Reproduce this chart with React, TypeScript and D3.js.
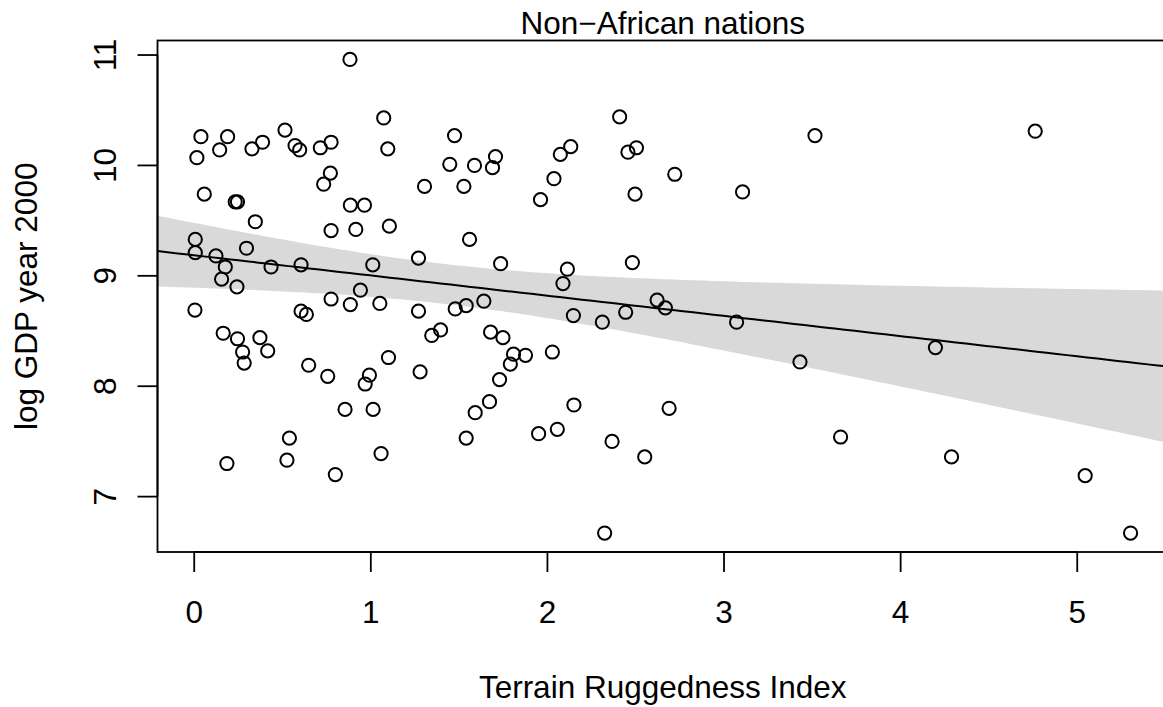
import React, { useEffect, useRef } from "react";
import * as d3 from "d3";

// terrain ruggedness vs log GDP (non-African nations)
const rugged = [
  0.006, 0.006, 0.004, 0.015, 0.038, 0.057, 0.123, 0.144, 0.155, 0.176,
  0.164, 0.189, 0.185, 0.232, 0.245, 0.242, 0.245, 0.274, 0.283, 0.296,
  0.327, 0.346, 0.372, 0.387, 0.416, 0.435, 0.514, 0.539, 0.525, 0.571,
  0.597, 0.605, 0.605, 0.635, 0.648, 0.714, 0.733, 0.756, 0.775, 0.771,
  0.775, 0.775, 0.799, 0.854, 0.882, 0.884, 0.884, 0.915, 0.941, 0.964,
  0.968, 0.992, 1.011, 1.013, 1.051, 1.058, 1.073, 1.096, 1.105, 1.1,
  1.27, 1.27, 1.279, 1.304, 1.345, 1.395, 1.447, 1.474, 1.478, 1.527,
  1.54, 1.54, 1.559, 1.587, 1.591, 1.64, 1.672, 1.678, 1.689, 1.706,
  1.735, 1.729, 1.748, 1.79, 1.808, 1.876, 1.961, 1.95, 2.028, 2.037,
  2.056, 2.073, 2.088, 2.113, 2.132, 2.147, 2.15, 2.311, 2.324, 2.366,
  2.409, 2.443, 2.456, 2.481, 2.496, 2.504, 2.551, 2.621, 2.668, 2.689,
  2.721, 3.071, 3.105, 3.43, 3.515, 3.66, 4.197, 4.288, 4.762, 5.045,
  5.302
];

const logGdp = [
  9.33, 9.21, 8.69, 10.07, 10.26, 9.74, 9.18, 10.14, 8.97, 9.08,
  8.48, 10.26, 7.3, 9.67, 9.67, 8.9, 8.43, 8.31, 8.21, 9.25,
  10.15, 9.49, 8.44, 10.21, 8.32, 9.08, 10.32, 7.53, 7.33, 10.18,
  10.14, 9.1, 8.68, 8.65, 8.19, 10.16, 9.83, 8.09, 10.21, 9.93,
  9.41, 8.79, 7.2, 7.79, 10.96, 9.64, 8.74, 9.42, 8.87, 9.64,
  8.02, 8.1, 9.1, 7.79, 8.75, 7.39, 10.43, 10.15, 9.45, 8.26,
  9.16, 8.68, 8.13, 9.81, 8.46, 8.51, 10.01, 10.27, 8.7, 9.81,
  8.73, 7.53, 9.33, 10.0, 7.76, 8.77, 7.86, 8.49, 9.98, 10.08,
  9.11, 8.06, 8.44, 8.2, 8.29, 8.28, 9.69, 7.57, 8.31, 9.88,
  7.61, 10.1, 8.93, 9.06, 10.17, 8.64, 7.83, 8.58, 6.67, 7.5,
  10.44, 8.67, 10.12, 9.12, 9.74, 10.16, 7.36, 8.78, 8.71, 7.8,
  9.92, 8.58, 9.76, 8.22, 10.27, 7.54, 8.35, 7.36, 10.31, 7.19,
  6.67
];

// posterior mean line as drawn (intercept, slope)
const fitIntercept = 9.186;
const fitSlope = -0.183;

const xTicks = [0, 1, 2, 3, 4, 5];
const yTicks = [7, 8, 9, 10, 11];

const title = "Non\u2212African nations";
const xLabel = "Terrain Ruggedness Index";
const yLabel = "log GDP year 2000";

const App = () => {
  const svgEl = useRef(null);

  useEffect(() => {
    if (!svgEl.current) return;
    drawChartOn(svgEl.current);
  }, [svgEl]);

  return (
    <svg
      ref={svgEl}
      width={1163}
      height={707}
      style={{ position: "absolute", left: 0, top: 0, background: "#fff" }}
    ></svg>
  );
};

// R style axis range: data extent padded by 4% on each side
function padded(values) {
  const [lo, hi] = d3.extent(values);
  const d = (hi - lo) * 0.04;
  return [lo - d, hi + d];
}

function drawChartOn(svgEl) {
  const left = 157.5;
  const top = 40.5;
  const right = 1168;
  const bottom = 552;
  const font = "'Liberation Sans', Arial, Helvetica, sans-serif";
  const fontSize = 31.5;

  const svg = d3.select(svgEl);
  svg.selectAll("*").remove();

  const x = d3.scaleLinear().domain(padded(rugged)).range([left, right]);
  const y = d3.scaleLinear().domain(padded(logGdp)).range([bottom, top]);

  // interval for the mean around the drawn line
  const n = rugged.length;
  const mx = d3.mean(rugged);
  const sxx = d3.sum(rugged, (v) => (v - mx) * (v - mx));
  const rss = d3.sum(rugged, (v, i) => (logGdp[i] - fitIntercept - fitSlope * v) ** 2);
  const s = Math.sqrt(rss / (n - 2));
  const z = 2.08;

  const [x0, x1] = x.domain();
  const grid = d3.range(101).map((i) => x0 + ((x1 - x0) * i) / 100);
  const fit = grid.map((g) => {
    const mu = fitIntercept + fitSlope * g;
    const h = z * s * Math.sqrt(1 / n + ((g - mx) * (g - mx)) / sxx);
    return { g, mu, lo: mu - h, hi: mu + h };
  });

  svg
    .append("defs")
    .append("clipPath")
    .attr("id", "plot-clip")
    .append("rect")
    .attr("x", left)
    .attr("y", top)
    .attr("width", right - left)
    .attr("height", bottom - top);

  const plot = svg.append("g").attr("clip-path", "url(#plot-clip)");

  const area = d3
    .area()
    .x((d) => x(d.g))
    .y0((d) => y(d.lo))
    .y1((d) => y(d.hi));

  plot.append("path").datum(fit).attr("fill", "#d9d9d9").attr("d", area);

  // points
  plot
    .selectAll("circle")
    .data(rugged)
    .enter()
    .append("circle")
    .attr("cx", (d) => x(d))
    .attr("cy", (d, i) => y(logGdp[i]))
    .attr("r", 6.6)
    .attr("fill", "none")
    .attr("stroke", "#000")
    .attr("stroke-width", 2);

  const line = d3
    .line()
    .x((d) => x(d.g))
    .y((d) => y(d.mu));

  plot
    .append("path")
    .datum(fit)
    .attr("fill", "none")
    .attr("stroke", "#000")
    .attr("stroke-width", 2)
    .attr("d", line);

  // box
  svg
    .append("rect")
    .attr("x", left)
    .attr("y", top)
    .attr("width", right - left)
    .attr("height", bottom - top)
    .attr("fill", "none")
    .attr("stroke", "#000")
    .attr("stroke-width", 1.8);

  // x axis
  const xAxis = svg.append("g");
  xAxis
    .append("line")
    .attr("x1", x(xTicks[0]))
    .attr("x2", x(xTicks[xTicks.length - 1]))
    .attr("y1", bottom)
    .attr("y2", bottom)
    .attr("stroke", "#000")
    .attr("stroke-width", 1.8);
  xAxis
    .selectAll("line.tick")
    .data(xTicks)
    .enter()
    .append("line")
    .attr("class", "tick")
    .attr("x1", (d) => x(d))
    .attr("x2", (d) => x(d))
    .attr("y1", bottom)
    .attr("y2", bottom + 20)
    .attr("stroke", "#000")
    .attr("stroke-width", 1.8);
  xAxis
    .selectAll("text")
    .data(xTicks)
    .enter()
    .append("text")
    .attr("x", (d) => x(d))
    .attr("y", 622.5)
    .attr("text-anchor", "middle")
    .attr("font-family", font)
    .attr("font-size", fontSize)
    .text((d) => d);

  // y axis
  const yAxis = svg.append("g");
  yAxis
    .append("line")
    .attr("x1", left)
    .attr("x2", left)
    .attr("y1", y(yTicks[0]))
    .attr("y2", y(yTicks[yTicks.length - 1]))
    .attr("stroke", "#000")
    .attr("stroke-width", 1.8);
  yAxis
    .selectAll("line.tick")
    .data(yTicks)
    .enter()
    .append("line")
    .attr("class", "tick")
    .attr("x1", left - 20)
    .attr("x2", left)
    .attr("y1", (d) => y(d))
    .attr("y2", (d) => y(d))
    .attr("stroke", "#000")
    .attr("stroke-width", 1.8);
  yAxis
    .selectAll("text")
    .data(yTicks)
    .enter()
    .append("text")
    .attr("transform", (d) => "translate(116," + y(d) + ") rotate(-90)")
    .attr("text-anchor", "middle")
    .attr("font-family", font)
    .attr("font-size", fontSize)
    .text((d) => d);

  // labels
  const midX = (left + right) / 2;
  svg
    .append("text")
    .attr("x", midX)
    .attr("y", 34)
    .attr("text-anchor", "middle")
    .attr("font-family", font)
    .attr("font-size", fontSize)
    .text(title);

  svg
    .append("text")
    .attr("x", midX)
    .attr("y", 698)
    .attr("text-anchor", "middle")
    .attr("font-family", font)
    .attr("font-size", fontSize)
    .text(xLabel);

  svg
    .append("text")
    .attr("transform", "translate(37," + (top + bottom) / 2 + ") rotate(-90)")
    .attr("text-anchor", "middle")
    .attr("font-family", font)
    .attr("font-size", fontSize)
    .text(yLabel);
}

export default App;
